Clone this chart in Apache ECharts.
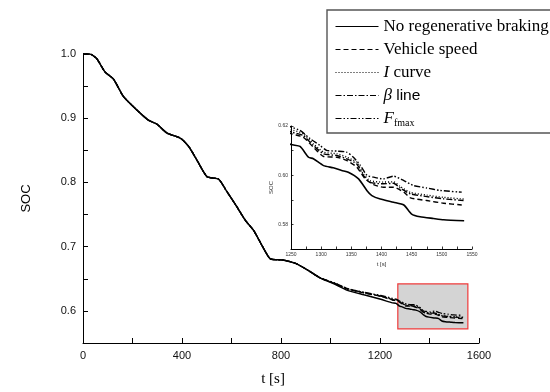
<!DOCTYPE html>
<html>
<head>
<meta charset="utf-8">
<script src="https://cdn.jsdelivr.net/npm/echarts@6/dist/echarts.min.js"></script>
<style>
html,body{margin:0;padding:0;background:#fff;}
#chart{width:550px;height:392px;}
</style>
</head>
<body>
<div id="chart"></div>
<script>
// ---- data ----
// shared part of the drive cycle (all strategies coincide up to ~960 s)
const commonT   = [0, 28, 55, 89, 123, 163, 217, 264, 298, 339, 393, 427, 460, 501, 548, 581, 622, 656, 690, 730, 757, 811, 859, 906, 960];
const commonSOC = [1.0, 1.0, 0.993, 0.972, 0.961, 0.934, 0.913, 0.897, 0.891, 0.877, 0.869, 0.856, 0.835, 0.809, 0.805, 0.786, 0.762, 0.741, 0.725, 0.697, 0.681, 0.679, 0.674, 0.664, 0.651];

// per-strategy tails
const noRegenT   = [1014, 1068, 1135, 1203, 1250, 1265, 1279, 1287, 1304, 1320, 1334, 1345, 1362, 1376, 1384, 1398, 1420, 1437, 1450, 1464, 1486, 1503, 1537];
const noRegenSOC = [0.642, 0.632, 0.625, 0.618, 0.6125, 0.6117, 0.6073, 0.6067, 0.6039, 0.6030, 0.6019, 0.6012, 0.5985, 0.5937, 0.5917, 0.5903, 0.5890, 0.5879, 0.5842, 0.5831, 0.5824, 0.5819, 0.5815];

const speedT   = [1014, 1068, 1135, 1203, 1250, 1270, 1287, 1304, 1326, 1342, 1359, 1373, 1387, 1403, 1420, 1437, 1448, 1475, 1503, 1533];
const speedSOC = [0.643, 0.634, 0.628, 0.6225, 0.6169, 0.6155, 0.6114, 0.6076, 0.6073, 0.6060, 0.6033, 0.5985, 0.5962, 0.5951, 0.5951, 0.5931, 0.5908, 0.5897, 0.5886, 0.5879];

const iCurveT   = [1014, 1068, 1135, 1203, 1250, 1270, 1287, 1304, 1326, 1342, 1359, 1370, 1381, 1403, 1420, 1431, 1448, 1475, 1503, 1536];
const iCurveSOC = [0.6435, 0.6345, 0.6285, 0.6232, 0.6185, 0.6170, 0.6128, 0.6094, 0.6087, 0.6074, 0.6052, 0.6005, 0.5978, 0.5972, 0.5973, 0.5954, 0.5930, 0.5919, 0.5910, 0.5903];

const betaT   = [1014, 1068, 1135, 1203, 1250, 1270, 1287, 1304, 1326, 1342, 1359, 1370, 1381, 1403, 1420, 1431, 1448, 1475, 1503, 1536];
const betaSOC = [0.6435, 0.6345, 0.6285, 0.623, 0.6176, 0.6162, 0.6121, 0.6087, 0.6080, 0.6067, 0.6046, 0.5999, 0.5971, 0.5965, 0.5967, 0.5948, 0.5924, 0.5913, 0.5904, 0.5897];

const fmaxT   = [1014, 1068, 1135, 1203, 1250, 1265, 1282, 1298, 1309, 1326, 1342, 1353, 1365, 1376, 1387, 1403, 1420, 1437, 1453, 1475, 1497, 1533];
const fmaxSOC = [0.644, 0.635, 0.629, 0.624, 0.6196, 0.6182, 0.6148, 0.6121, 0.6101, 0.6098, 0.6094, 0.6074, 0.6040, 0.5999, 0.5992, 0.5985, 0.5996, 0.5978, 0.5958, 0.5948, 0.5938, 0.5931];

// highlighted region [t0, t1, soc0, soc1]
const zoomBox = [1272, 1555, 0.572, 0.642];

const seriesNames = ['No regenerative braking', 'Vehicle speed', 'I curve', 'β line', 'Ffmax'];
const mainXTicks = [0, 400, 800, 1200, 1600];
const mainYTicks = [0.6, 0.7, 0.8, 0.9, 1.0];

// ---- build ----
function join(tailT, tailV) {
  const out = [];
  for (let i = 0; i < commonT.length; i++) out.push([commonT[i], commonSOC[i]]);
  for (let i = 0; i < tailT.length; i++) out.push([tailT[i], tailV[i]]);
  return out;
}
const dataSets = [
  join(noRegenT, noRegenSOC),
  join(speedT, speedSOC),
  join(iCurveT, iCurveSOC),
  join(betaT, betaSOC),
  join(fmaxT, fmaxSOC)
];
const dashes = ['solid', [5, 3], [1, 2], [6, 2, 1.5, 2], [6, 2, 1.5, 2, 1.5, 2]];
const widths = [1.5, 1.3, 1.3, 1.3, 1.3];

const series = [];
dataSets.forEach(function (d, i) {
  const s = {
    name: seriesNames[i], type: 'line', data: d, xAxisIndex: 0, yAxisIndex: 0,
    symbol: 'none', showSymbol: false, animation: false, z: 3, smooth: 0.2,
    lineStyle: { color: '#000', width: widths[i], type: dashes[i] },
    itemStyle: { color: '#000' }
  };
  if (i === 0) {
    s.markArea = {
      silent: true,
      itemStyle: { color: '#d4d4d4', borderColor: '#ee3a3a', borderWidth: 1.2 },
      data: [[{ coord: [zoomBox[0], zoomBox[3]] }, { coord: [zoomBox[1], zoomBox[2]] }]]
    };
  }
  series.push(s);
  series.push({
    name: seriesNames[i], type: 'line', data: d, xAxisIndex: 1, yAxisIndex: 1,
    symbol: 'none', showSymbol: false, animation: false, clip: true, z: 3, smooth: 0.2,
    lineStyle: { color: '#000', width: widths[i] + 0.1, type: dashes[i] },
    itemStyle: { color: '#000' }
  });
});

const near = (v, list) => list.some(t => Math.abs(t - v) < 1e-6);

const option = {
  backgroundColor: '#fff',
  animation: false,
  grid: [
    { left: 83, top: 54, width: 396, height: 289 },
    { left: 291, top: 126, width: 181, height: 123 }
  ],
  legend: {
    left: 327, top: 10,
    orient: 'vertical',
    data: seriesNames,
    itemWidth: 43, itemHeight: 14, itemGap: 6,
    padding: [8, 24, 5, 8],
    borderColor: '#555', borderWidth: 1.4,
    backgroundColor: '#fff',
    selectedMode: false,
    itemStyle: { color: 'transparent', borderWidth: 0, opacity: 0 },
    lineStyle: { width: 1 },
    textStyle: {
      fontFamily: 'Liberation Serif', fontSize: 17, lineHeight: 17, color: '#000',
      rich: {
        it: { fontFamily: 'Liberation Serif', fontStyle: 'italic', fontSize: 17, lineHeight: 17, color: '#000' },
        sans: { fontFamily: 'Liberation Sans', fontSize: 15.5, lineHeight: 17, color: '#000' },
        sub: { fontFamily: 'Liberation Serif', fontSize: 10, lineHeight: 10, color: '#000', verticalAlign: 'top', padding: [8, 0, 0, 0] }
      }
    },
    formatter: function (name) {
      if (name === 'I curve') return '{it|I} curve';
      if (name === 'β line') return '{it|β} {sans|line}';
      if (name === 'Ffmax') return '{it|F}{sub|fmax}';
      return name;
    }
  },
  xAxis: [
    {
      gridIndex: 0, type: 'value', min: 0, max: 1600, interval: 200,
      name: 't [s]', nameLocation: 'middle', nameGap: 29,
      nameTextStyle: { fontFamily: 'Liberation Serif', fontSize: 15, color: '#000', padding: [0, 16, 0, 0] },
      axisLine: { show: true, lineStyle: { color: '#000', width: 1 } },
      axisTick: { show: true, inside: true, length: 5, lineStyle: { color: '#000' } },
      axisLabel: {
        margin: 7, fontFamily: 'Liberation Sans', fontSize: 11, color: '#111',
        formatter: v => near(v, mainXTicks) ? String(v) : ''
      },
      splitLine: { show: false }
    },
    {
      gridIndex: 1, type: 'value', min: 1250, max: 1550, interval: 25,
      name: 't [s]', nameLocation: 'middle', nameGap: 12,
      nameTextStyle: { fontFamily: 'Liberation Sans', fontSize: 6, color: '#333' },
      axisLine: { show: true, lineStyle: { color: '#000', width: 1 } },
      axisTick: { show: true, inside: true, length: 2.5, lineStyle: { color: '#000', width: 0.8 } },
      axisLabel: {
        margin: 3, fontFamily: 'Liberation Sans', fontSize: 5, color: '#333',
        formatter: v => (Math.round(v) % 50 === 0) ? String(v) : ''
      },
      splitLine: { show: false }
    }
  ],
  yAxis: [
    {
      gridIndex: 0, type: 'value', min: 0.55, max: 1.0, interval: 0.05,
      name: 'SOC', nameLocation: 'middle', nameGap: 50,
      nameTextStyle: { fontFamily: 'Liberation Sans', fontSize: 13, color: '#000' },
      axisLine: { show: true, lineStyle: { color: '#000', width: 1 } },
      axisTick: { show: true, inside: true, length: 5, lineStyle: { color: '#000' } },
      axisLabel: {
        margin: 7, fontFamily: 'Liberation Sans', fontSize: 11, color: '#111',
        formatter: v => near(v, mainYTicks) ? v.toFixed(1) : ''
      },
      splitLine: { show: false }
    },
    {
      gridIndex: 1, type: 'value', min: 0.57, max: 0.62, interval: 0.01,
      name: 'SOC', nameLocation: 'middle', nameGap: 14,
      nameTextStyle: { fontFamily: 'Liberation Sans', fontSize: 6, color: '#333' },
      axisLine: { show: true, lineStyle: { color: '#000', width: 1 } },
      axisTick: { show: true, inside: true, length: 2.5, lineStyle: { color: '#000', width: 0.8 } },
      axisLabel: {
        margin: 3, fontFamily: 'Liberation Sans', fontSize: 5, color: '#333',
        formatter: v => (Math.round(v * 100) % 2 === 0) ? v.toFixed(2) : ''
      },
      splitLine: { show: false }
    }
  ],
  series: series
};

const chart = echarts.init(document.getElementById('chart'), null, { renderer: 'canvas' });
chart.setOption(option);
</script>
</body>
</html>
